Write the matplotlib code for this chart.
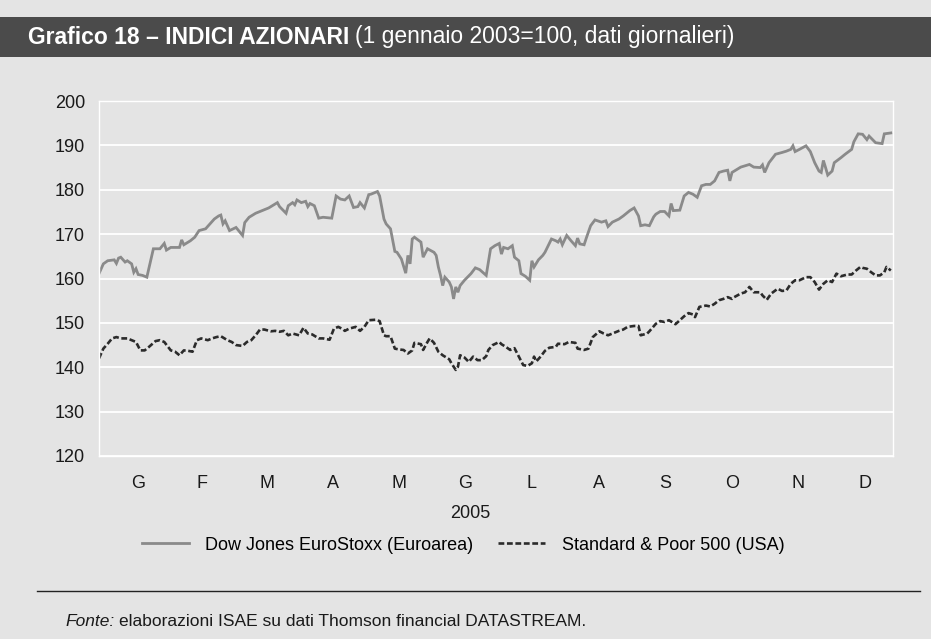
import matplotlib
matplotlib.use("Agg")
import matplotlib.pyplot as plt
from matplotlib.patches import Rectangle
from matplotlib.lines import Line2D

plt.rcParams['font.family'] = ['Liberation Sans', 'DejaVu Sans']

# giorni dall'inizio del 2005 e valori degli indici (1 gennaio 2003=100)
euro_days = [0, 2, 4, 7, 8, 9, 10, 12, 13, 15, 16, 17, 18, 20, 22, 25, 28, 30, 31, 33,
             37, 38, 39, 42, 44, 46, 49, 51, 53, 55, 56, 57, 58, 60, 63, 66, 67, 69, 72,
             75, 78, 82, 83, 86, 87, 89, 90, 91, 93, 95, 96, 97, 99, 101, 103, 107, 109, 111, 113,
             115, 117, 119, 120, 122, 124, 125, 128, 129, 131, 132, 134, 136, 137, 139, 141, 142, 143, 144, 145,
             148, 149, 151, 154, 155, 156, 157, 158, 159, 161, 162, 163, 164, 165, 166, 168, 171, 173, 175, 178,
             180, 182, 184, 185, 186, 188, 190, 191, 193, 194, 196, 198, 199, 200, 202, 204, 205, 208, 210, 211,
             212, 213, 215, 217, 219,
             220, 221, 223, 224, 226, 228, 231, 233, 234, 236, 239, 241, 242, 244, 246, 248, 249, 251, 253, 255,
             256, 258, 260, 262, 263, 264, 267, 269, 271, 273, 275, 277, 279, 281, 283, 285, 287, 289, 290, 291, 292,
             295, 299, 301, 304, 305, 306, 308, 311, 314, 316, 318, 319, 320, 322, 325, 327, 329, 331, 332, 333,
             334, 335, 337, 338, 341, 343, 346, 347, 349, 351, 353, 354, 357, 360, 361, 364]
euro_vals = [161.1, 163.3, 164.0, 164.2, 163.4, 164.6, 164.8, 163.7, 164.0, 163.3, 161.4, 162.2, 160.9, 160.7, 160.3,
             166.7, 166.7, 167.9, 166.4, 167.0, 167.0, 168.7, 167.6, 168.5, 169.3, 170.8, 171.2, 172.3, 173.4, 174.1,
             174.3, 172.3, 173.0, 170.8, 171.5, 169.7, 172.6, 173.8, 174.7,
             175.3, 175.9, 177.1, 176.2, 174.7, 176.4, 177.1, 176.6, 177.7, 177.1, 177.4, 176.2, 176.9, 176.4, 173.6,
             173.8, 173.6, 178.6, 177.9, 177.7, 178.6, 176.0, 176.2, 177.1, 175.9, 178.9, 179.0, 179.6, 178.6, 173.4,
             172.3, 171.2, 166.1, 165.9, 164.4, 161.2, 165.2, 163.3, 168.9, 169.3,
             168.2, 164.8, 166.7, 165.9, 165.2, 162.6, 160.7, 158.4, 160.3, 159.2, 158.1, 155.4, 158.1, 156.9, 158.4,
             159.6, 161.1, 162.4, 162.0, 160.7, 166.7, 167.4, 167.9, 165.5, 167.0, 166.7, 167.4, 164.8, 164.0, 161.1,
             160.5, 159.6, 164.0, 162.6, 164.2, 165.2, 165.9, 168.9, 168.5, 168.2, 168.9, 167.6, 169.7, 168.5, 167.4,
             169.1, 167.8, 167.6, 169.1, 171.9, 173.2, 172.7, 173.0, 171.7, 172.7, 173.4, 174.1, 174.5, 175.3, 175.9,
             174.1, 171.9, 172.1, 171.9, 173.9, 174.5, 175.1, 175.1, 174.1, 176.9, 175.3, 175.4, 178.6, 179.4, 179.0,
             178.3, 180.9, 181.2, 181.2, 182.0, 183.9, 184.2, 184.4, 182.0, 183.9, 184.2,
             185.1, 185.7, 185.1, 185.0, 185.6, 183.9, 186.1, 188.0, 188.4, 188.7, 189.1, 189.9, 188.6, 189.1, 189.9,
             188.6, 186.1, 184.2, 183.9, 186.6, 185.0, 183.3, 184.2, 186.1, 187.2, 188.0, 189.1, 190.8, 192.6, 192.5,
             191.3, 192.1, 190.6, 190.4, 192.6, 192.8]

sp_days = [0, 2, 4, 6, 8, 10, 13, 15, 17, 19, 21, 23, 26, 28, 30, 33, 35, 37, 39, 41, 43, 45, 47, 50, 52,
           54, 56, 59, 61, 63, 66, 68, 70, 72,
           74, 76, 79, 81, 83, 85, 87, 89, 92, 94, 96, 98, 101, 103, 106, 108, 110, 112, 113, 115, 118, 120, 122,
           124, 127, 129, 131, 132, 134, 136, 138, 140, 142, 144, 145,
           148, 149, 151, 152, 154, 156, 158, 161, 162, 164, 165, 166, 168, 170, 172, 174, 176, 178, 179, 181,
           184, 185, 187, 189, 191, 193, 195, 197, 199, 200, 201, 203, 205, 207, 210, 211, 214, 216, 219,
           220, 223, 225, 227, 230, 232, 234, 236, 239, 241, 243, 246, 248, 249, 252, 253, 256, 258, 260, 262,
           265, 267, 269, 271, 273, 274, 276, 279, 281, 283, 285, 287, 289, 291, 292,
           295, 297, 299, 301, 304, 305, 307, 309, 312, 314, 316, 318, 320, 322, 325, 327, 329, 331, 333, 335,
           337, 339, 341, 344, 346, 348, 350, 351, 353, 355, 357, 359, 361, 362, 364]
sp_vals = [142.0, 144.2, 145.3, 146.5, 146.8, 146.5, 146.5, 146.1, 145.7, 143.8, 143.8, 144.6, 145.9, 146.1, 145.7,
           143.8, 143.5, 142.7, 143.8, 143.7, 143.5, 146.1, 146.5, 146.1, 146.5, 146.8, 147.0, 146.1, 145.7, 145.0,
           144.8, 145.7, 146.1, 147.2,
           148.5, 148.5, 148.1, 148.2, 148.0, 148.2, 147.2, 147.6, 147.2, 148.9, 147.6, 147.4, 146.5, 146.5, 146.2,
           148.7, 149.1, 148.6, 148.2, 148.7, 149.1, 148.2, 149.1, 150.6, 150.7, 150.4, 147.2, 147.0, 147.0, 144.2,
           144.0, 143.9, 143.1, 143.8, 145.5,
           145.2, 143.9, 145.7, 146.5, 145.5, 143.5, 142.7, 141.8, 140.9, 139.4, 140.1, 142.7, 142.2, 141.2, 142.4,
           141.6, 141.6, 142.5, 143.9, 145.0, 145.7, 145.2, 144.6, 143.9, 144.3, 142.4, 140.5, 140.3, 140.9, 142.4,
           141.3, 142.4, 143.7, 144.4, 144.6, 145.3, 145.2, 145.7, 145.5,
           144.2, 143.9, 144.2, 146.8, 148.1, 147.6, 147.2, 147.6, 148.2, 148.5, 149.1, 149.3, 149.3, 147.2, 147.6,
           148.1, 149.8, 150.4, 150.2, 150.6, 149.7, 150.6, 151.5, 152.2, 151.9, 151.3, 153.6, 153.9, 153.7, 154.3,
           155.1, 155.4, 155.8, 155.4, 155.8,
           156.6, 156.9, 158.1, 156.9, 156.9, 156.2, 155.2, 156.6, 157.7, 157.2, 157.3, 158.8, 159.6, 159.6, 160.3,
           160.3, 159.2, 157.5, 158.8, 159.6, 159.2, 161.1, 160.5, 160.9, 160.9, 161.8, 162.6, 162.4, 162.2, 161.4,
           160.7, 160.7, 161.4, 162.6, 161.8]

months = ['G', 'F', 'M', 'A', 'M', 'G', 'L', 'A', 'S', 'O', 'N', 'D']
month_start = [0, 31, 59, 90, 120, 151, 181, 212, 243, 273, 304, 334, 365]

bg = '#e4e4e4'
fig = plt.figure(figsize=(9.31, 6.39), dpi=100, facecolor=bg)

# barra del titolo
fig.patches.append(Rectangle((0, 1 - 57 / 639), 1, 40 / 639, transform=fig.transFigure,
                             facecolor='#4b4b4b', edgecolor='none', zorder=0))
t1 = fig.text(28 / 931, 1 - 37 / 639, 'Grafico 18 – INDICI AZIONARI', color='white',
              fontsize=16.5, fontweight='bold', va='center', ha='left')
fig.canvas.draw()
bb = t1.get_window_extent()
fig.text(bb.x1 / 931 + 6 / 931, 1 - 37 / 639, '(1 gennaio 2003=100, dati giornalieri)',
         color='white', fontsize=16.5, va='center', ha='left')

ax = fig.add_axes([99 / 931, 1 - 456 / 639, 794 / 931, 355 / 639])
ax.set_facecolor(bg)
l1, = ax.plot(euro_days, euro_vals, color='#8a8a8a', lw=2.0, solid_joinstyle='miter')
l2, = ax.plot(sp_days, sp_vals, color='#2b2b2b', lw=1.9, linestyle=(0, (2.2, 1.0)))

ax.set_xlim(0, 365)
ax.set_ylim(120, 200)
ax.set_yticks(range(120, 201, 10))
ax.grid(axis='y', color='white', lw=1.3)
ax.set_axisbelow(True)
for s in ax.spines.values():
    s.set_color('white')
    s.set_linewidth(1.0)

mid = [(month_start[i] + month_start[i + 1]) / 2 + 2.5 for i in range(12)]
ax.set_xticks(mid)
ax.set_xticklabels(months)
ax.tick_params(axis='both', length=0, labelsize=13, colors='#1a1a1a')
ax.tick_params(axis='y', pad=10)
ax.tick_params(axis='x', pad=14)

fig.text(470 / 931, 1 - 513 / 639, '2005', fontsize=13, ha='center', va='center', color='#1a1a1a')

fig.legend([l1, l2], ['Dow Jones EuroStoxx (Euroarea)', 'Standard & Poor 500 (USA)'],
           loc='center', bbox_to_anchor=(463 / 931, 1 - 545 / 639), ncol=2, frameon=False,
           fontsize=13, handlelength=2.6, handletextpad=0.9, columnspacing=1.4)

fig.add_artist(Line2D([37 / 931, 920 / 931], [1 - 591 / 639, 1 - 591 / 639],
                      transform=fig.transFigure, color='#222222', lw=1.0))

t2 = fig.text(65 / 931, 1 - 622 / 639, 'Fonte:', fontsize=12.5, fontstyle='italic',
              ha='left', va='center', color='#1a1a1a')
fig.canvas.draw()
bb2 = t2.get_window_extent()
fig.text(bb2.x1 / 931 + 5 / 931, 1 - 622 / 639,
         'elaborazioni ISAE su dati Thomson financial DATASTREAM.',
         fontsize=12.5, ha='left', va='center', color='#1a1a1a')

fig.savefig('out.png', dpi=100, facecolor=bg)
